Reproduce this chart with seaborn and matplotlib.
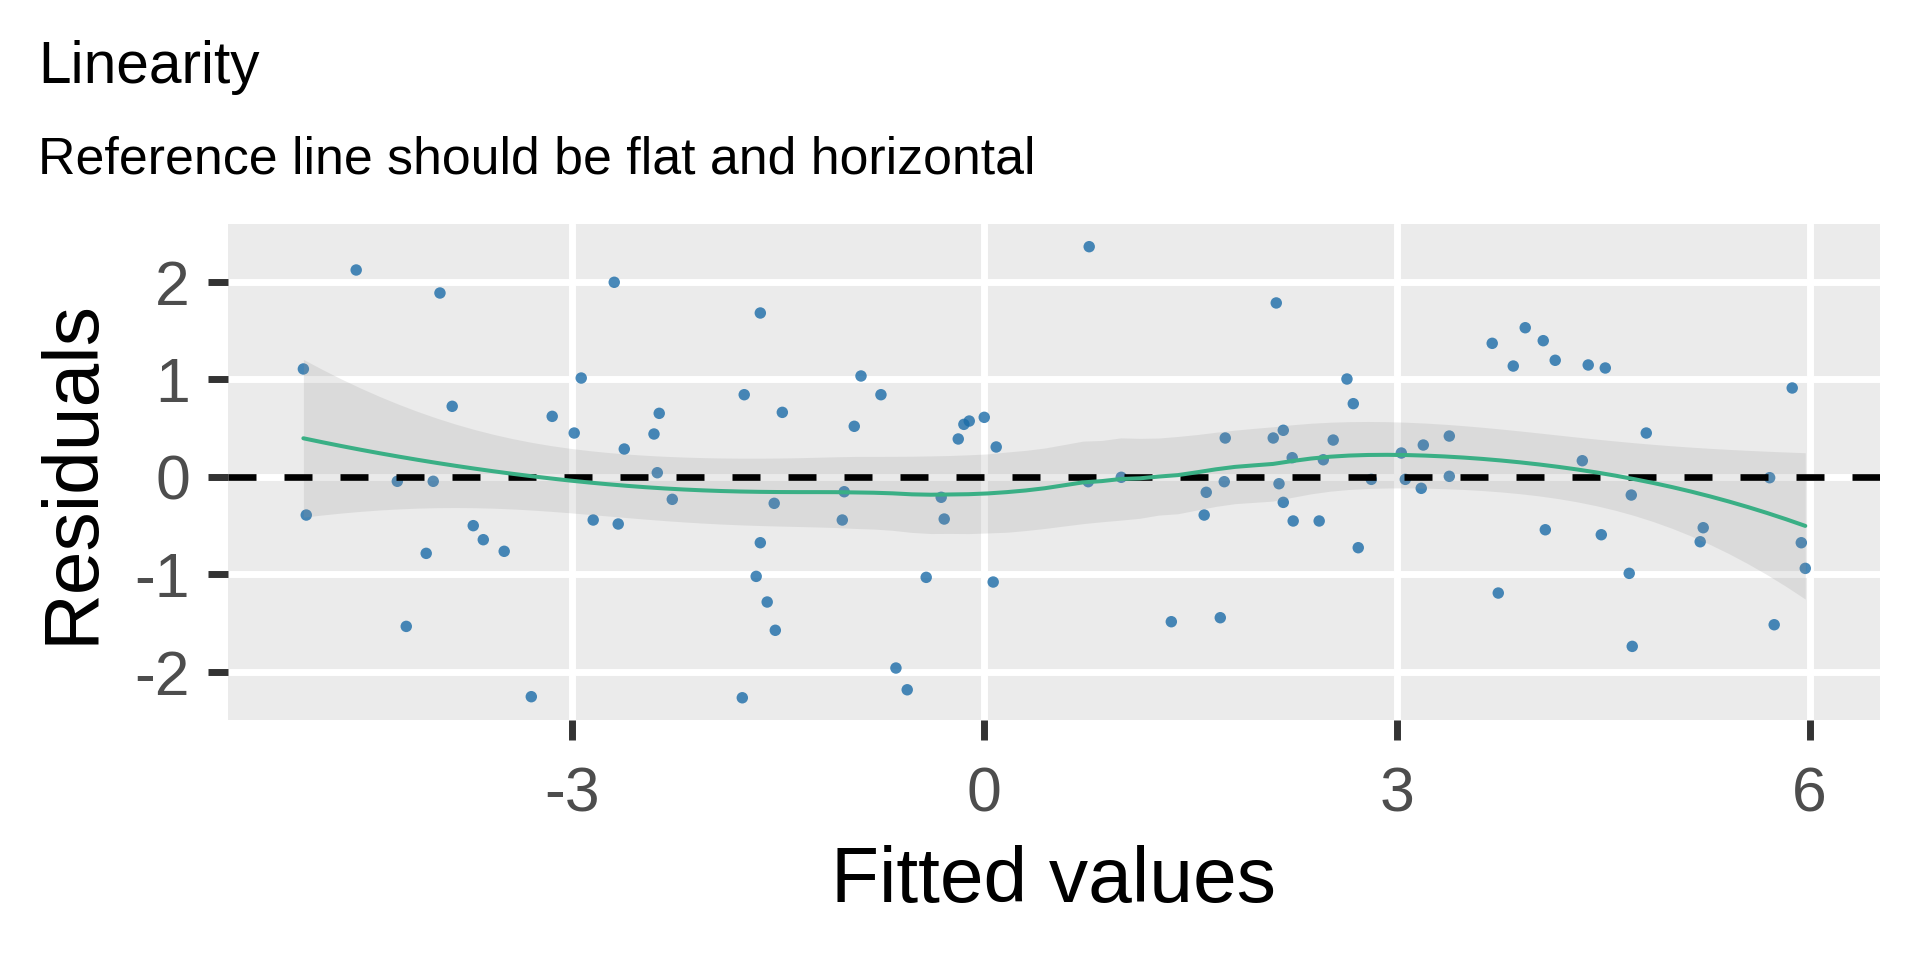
import numpy as np
import pandas as pd
import matplotlib
matplotlib.use("Agg")
import matplotlib.pyplot as plt
import seaborn as sns

# ---------------- data ----------------
fitted = [
    -4.566, -3.957, -4.950, -3.868, -3.141, -2.981, -2.930, -2.690, -2.617, -4.267,
    -4.006, -4.929, -3.715, -3.642, -3.490, -4.057, -2.843, -2.661, -4.202, -3.293,
    -1.628, -0.896, -1.745, -0.751, -2.363, -1.468, -2.401, -0.945, 0.000, -0.109,
    -0.148, -0.189, 0.087, -2.377, -2.268, -1.527, -1.018, -1.032, -0.313, -0.291,
    -1.628, -1.658, -0.422, 0.065, -1.578, -1.519, -0.642, -0.560, -1.759,
    0.763, 2.123, 2.637, 2.683, 2.174, 2.101, 1.752, 2.537, 3.381, 3.192,
    3.032, 2.239, 2.465, 0.756, 0.996, 1.745, 2.143, 2.814, 3.061, 3.381,
    3.177, 1.614, 2.174, 1.599, 2.246, 2.435, 2.719, 1.360, 1.716,
    3.693, 3.933, 4.064, 3.846, 4.151, 4.391, 4.515, 5.874, 4.813, 4.348,
    5.710, 4.704, 4.079, 4.486, 5.227, 5.205, 5.940, 5.969, 4.689, 3.737,
    5.743, 4.711,
]
residuals = [
    2.120, 1.884, 1.105, 0.722, 0.619, 0.448, 1.012, 1.994, 0.284, -0.047,
    -0.047, -0.393, -0.502, -0.646, -0.765, -0.786, -0.444, -0.485, -1.535, -2.256,
    1.679, 1.033, 0.841, 0.841, 0.650, 0.660, 0.438, 0.517, 0.609, 0.571,
    0.537, 0.387, 0.305, 0.041, -0.232, -0.273, -0.154, -0.444, -0.211, -0.434,
    -0.677, -1.022, -1.032, -1.080, -1.285, -1.575, -1.962, -2.185, -2.267,
    2.359, 1.782, 1.002, 0.749, 0.476, 0.397, 0.397, 0.376, 0.417, 0.325,
    0.243, 0.195, 0.174, -0.051, -0.006, -0.051, -0.072, -0.027, -0.027, 0.004,
    -0.119, -0.160, -0.263, -0.393, -0.454, -0.454, -0.728, -1.487, -1.446,
    1.368, 1.528, 1.395, 1.135, 1.194, 1.146, 1.115, 0.910, 0.448, 0.164,
    -0.010, -0.188, -0.544, -0.595, -0.523, -0.667, -0.677, -0.940, -0.991, -1.193,
    -1.518, -1.740,
]
x_ticks = [-3, 0, 3, 6]
y_ticks = [-2, -1, 0, 1, 2]
title = "Linearity"
subtitle = "Reference line should be flat and horizontal"
x_label = "Fitted values"
y_label = "Residuals"

# ---------------- loess smoother (degree 2, span 0.75) ----------------
def loess_matrix(x, x0, span=0.75):
    n = len(x)
    q = int(np.floor(n * span))
    rows = []
    for xv in x0:
        d = np.abs(x - xv)
        h = np.sort(d)[q - 1]
        u = np.clip(d / h, 0, 1)
        w = (1 - u ** 3) ** 3
        X = np.column_stack([np.ones(n), x - xv, (x - xv) ** 2])
        W = np.diag(w)
        A = X.T @ W @ X
        rows.append((np.linalg.solve(A, X.T @ W))[0])
    return np.array(rows)

xs = np.array(fitted)
ys = np.array(residuals)
n = len(xs)
L_data = loess_matrix(xs, xs)
IL = np.eye(n) - L_data
M = IL.T @ IL
one_delta = np.trace(M)
two_delta = np.trace(M @ M)
sigma = np.sqrt(np.sum((IL @ ys) ** 2) / one_delta)
df = one_delta ** 2 / two_delta
z = 1.959964
tq = z + (z ** 3 + z) / (4 * df) + (5 * z ** 5 + 16 * z ** 3 + 3 * z) / (96 * df ** 2)

grid = np.linspace(xs.min(), xs.max(), 80)
L_grid = loess_matrix(xs, grid)
fit = L_grid @ ys
se = sigma * np.sqrt(np.sum(L_grid ** 2, axis=1))
smooth = pd.DataFrame({"x": grid, "fit": fit, "lo": fit - tq * se, "hi": fit + tq * se})
pts = pd.DataFrame({"Fitted values": xs, "Residuals": ys})

# ---------------- style ----------------
sns.set_style("white")
plt.rcParams["font.family"] = ["Liberation Sans", "DejaVu Sans"]
plt.rcParams["axes.unicode_minus"] = False

fig = plt.figure(figsize=(19.2, 9.6), dpi=100)
ax = fig.add_axes([0.11875, 0.25, 0.8604, 0.517])
ax.set_facecolor("#EBEBEB")
for s in ax.spines.values():
    s.set_visible(False)
ax.set_axisbelow(True)
ax.grid(True, color="white", linewidth=5.0)

sns.scatterplot(data=pts, x="Fitted values", y="Residuals", ax=ax, color="#1b6ca8",
                alpha=0.8, s=68, edgecolor="none", linewidth=0, zorder=3)
ax.fill_between(smooth["x"], smooth["lo"], smooth["hi"], color="#999999", alpha=0.2,
                linewidth=0, zorder=4)
ax.axhline(0, color="black", linewidth=4.8, linestyle=(0, (4.2, 4.2)), zorder=4.5)
sns.lineplot(data=smooth, x="x", y="fit", ax=ax, color="#3aaf85", linewidth=2.9, zorder=5)

ax.set_xlim(-5.498, 6.512)
ax.set_ylim(-2.495, 2.595)
ax.set_xticks(x_ticks)
ax.set_yticks(y_ticks)
ax.set_xticklabels([str(v) for v in x_ticks])
ax.set_yticklabels([str(v) for v in y_ticks])
ax.tick_params(axis="both", length=14.4, width=5.0, color="#333333", labelcolor="#4D4D4D",
               labelsize=45, direction="out", bottom=True, left=True)
ax.tick_params(axis="y", pad=13.0)
ax.tick_params(axis="x", pad=18.5)

ax.set_xlabel(x_label, fontsize=56.5, color="black", va="baseline")
ax.set_ylabel(y_label, fontsize=56.5, color="black", va="baseline")
ax.xaxis.set_label_coords(0.5, (720 - 902) / 496.3)
ax.yaxis.set_label_coords((92 - 228) / 1652, 0.5)

fig.text(0.0198, 1 - 82.7 / 960, title, fontsize=42.2, va="baseline", ha="left", color="black")
fig.text(0.0198, 1 - 173.3 / 960, subtitle, fontsize=37.4, va="baseline", ha="left", color="black")

fig.savefig("out.png", dpi=100)
